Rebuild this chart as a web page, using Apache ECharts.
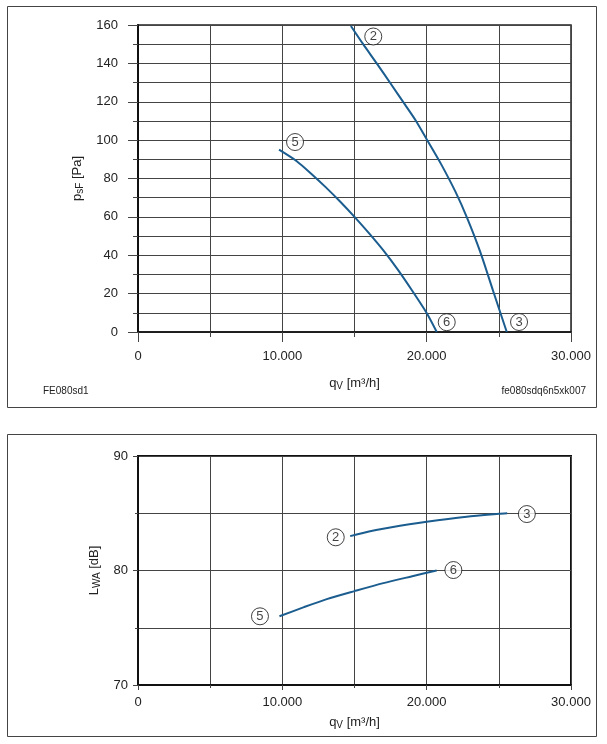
<!DOCTYPE html>
<html>
<head>
<meta charset="utf-8">
<script src="https://cdn.jsdelivr.net/npm/echarts@6/dist/echarts.min.js"></script>
<style>
  html, body { margin: 0; padding: 0; background: #fff; }
  #chart { width: 607px; height: 744px; }
</style>
</head>
<body>
<div id="chart"></div>
<script>
// pressure curves, p_sF [Pa] over q_V [m3/h]
const pressureCurve23 = [[14750, 159.5], [15600, 150], [16540, 140], [17500, 129.5], [18500, 118.5], [19220, 110.5], [20000, 100.5], [21000, 87.5], [22000, 73], [22800, 59.5], [23700, 42], [24600, 21.5], [25550, 0]];
const pressureCurve56 = [[9770, 95], [11000, 89], [12000, 82.5], [13000, 75.5], [14000, 68], [15000, 60], [16000, 51.5], [17000, 42.5], [18000, 32.5], [19000, 21.5], [20000, 9.9], [20700, 0]];
const pressureMarks = [[16300, 154, '2'], [26400, 5.2, '3'], [10880, 99, '5'], [21390, 5.1, '6']];

// sound power curves, L_WA [dB] over q_V [m3/h]
const soundCurve23 = [[14700, 83.0], [16000, 83.4], [17470, 83.75], [20000, 84.25], [22770, 84.7], [25000, 84.95], [25580, 85.0]];
const soundCurve56 = [[9800, 76.0], [11500, 76.8], [13080, 77.5], [15000, 78.2], [17000, 78.9], [19000, 79.5], [20690, 80.0]];
const soundMarks = [[13700, 82.9, '2'], [26940, 84.93, '3'], [8450, 76.0, '5'], [21850, 80.04, '6']];

const FONT = 'Liberation Sans';
const TXT = '#222';
const GRIDC = '#444';
const CURVE = '#1b5d8f';

const qLabel = (v) => v === 0 ? '0' : (v / 1000) + '.000';

const chart = echarts.init(document.getElementById('chart'));

function curve(data, idx) {
  return {
    type: 'line', xAxisIndex: idx, yAxisIndex: idx, data: data,
    smooth: 0.25, showSymbol: false, symbol: 'none',
    lineStyle: { color: CURVE, width: 2 }, z: 3
  };
}

function marks(data, idx) {
  return {
    type: 'scatter', xAxisIndex: idx, yAxisIndex: idx, data: data,
    symbolSize: 17, z: 5,
    itemStyle: { color: '#fff', borderColor: '#111', borderWidth: 1 },
    label: { show: true, position: 'inside', formatter: (p) => p.data[2], color: '#111', fontSize: 13, fontFamily: FONT }
  };
}

const richName = {
  a: { fontSize: 13, color: TXT, fontFamily: FONT, lineHeight: 16 },
  s: { fontSize: 10, color: TXT, fontFamily: FONT, lineHeight: 10, verticalAlign: 'bottom' }
};

function xAxis(idx, tickLen, margin, gap) {
  return {
    type: 'value', gridIndex: idx, min: 0, max: 30000, interval: 10000,
    name: '{a|q}{s|V}{a| [m³/h]}', nameLocation: 'middle', nameGap: gap,
    nameTextStyle: { rich: richName },
    axisLine: { show: true, onZero: false, lineStyle: { color: '#111', width: idx === 0 ? 1.5 : 2 } },
    axisTick: { show: true, length: tickLen, lineStyle: { color: GRIDC } },
    minorTick: { show: true, splitNumber: 2, length: Math.round(tickLen / 2), lineStyle: { color: GRIDC } },
    splitLine: { show: true, lineStyle: { color: GRIDC, width: 1 } },
    minorSplitLine: { show: true, lineStyle: { color: GRIDC, width: 1 } },
    axisLabel: { formatter: qLabel, color: TXT, fontSize: 13, fontFamily: FONT, margin: margin }
  };
}

chart.setOption({
  animation: false,
  textStyle: { fontFamily: FONT },
  graphic: [
    { type: 'rect', shape: { x: 7.5, y: 6.5, width: 589, height: 401 }, style: { fill: 'none', stroke: '#444', lineWidth: 1 } },
    { type: 'rect', shape: { x: 7.5, y: 434.5, width: 589, height: 302 }, style: { fill: 'none', stroke: '#444', lineWidth: 1 } },
    { type: 'text', left: 43, top: 386, style: { text: 'FE080sd1', fontSize: 10, fontFamily: FONT, fill: TXT } },
    { type: 'text', right: 21, top: 386, style: { text: 'fe080sdq6n5xk007', fontSize: 10, fontFamily: FONT, fill: TXT } }
  ],
  grid: [
    { left: 138, top: 25, width: 433, height: 307, show: true, borderColor: '#222', borderWidth: 1.5 },
    { left: 138, top: 456, width: 433, height: 229, show: true, borderColor: '#111', borderWidth: 2 }
  ],
  xAxis: [xAxis(0, 10, 18, 43), xAxis(1, 5, 11, 29)],
  yAxis: [
    {
      type: 'value', gridIndex: 0, min: 0, max: 160, interval: 20,
      name: '{a|p}{s|sF}{a| [Pa]}', nameLocation: 'middle', nameGap: 46, nameRotate: 90,
      nameTextStyle: { rich: richName },
      axisLine: { show: true, onZero: false, lineStyle: { color: '#111', width: 2 } },
      axisTick: { show: true, length: 10, lineStyle: { color: GRIDC } },
      minorTick: { show: true, splitNumber: 2, length: 5, lineStyle: { color: GRIDC } },
      splitLine: { show: true, lineStyle: { color: GRIDC, width: 1 } },
      minorSplitLine: { show: true, lineStyle: { color: GRIDC, width: 1 } },
      axisLabel: { color: TXT, fontSize: 13, fontFamily: FONT, margin: 20 }
    },
    {
      type: 'value', gridIndex: 1, min: 70, max: 90, interval: 10,
      name: '{a|L}{s|WA}{a| [dB]}', nameLocation: 'middle', nameGap: 35, nameRotate: 90,
      nameTextStyle: { rich: richName },
      axisLine: { show: true, onZero: false, lineStyle: { color: '#111', width: 2 } },
      axisTick: { show: true, length: 5, lineStyle: { color: GRIDC } },
      minorTick: { show: true, splitNumber: 2, length: 3, lineStyle: { color: GRIDC } },
      splitLine: { show: true, lineStyle: { color: GRIDC, width: 1 } },
      minorSplitLine: { show: true, lineStyle: { color: GRIDC, width: 1 } },
      axisLabel: { color: TXT, fontSize: 13, fontFamily: FONT, margin: 10 }
    }
  ],
  series: [
    curve(pressureCurve23, 0),
    curve(pressureCurve56, 0),
    marks(pressureMarks, 0),
    curve(soundCurve23, 1),
    curve(soundCurve56, 1),
    marks(soundMarks, 1)
  ]
});
</script>
</body>
</html>
